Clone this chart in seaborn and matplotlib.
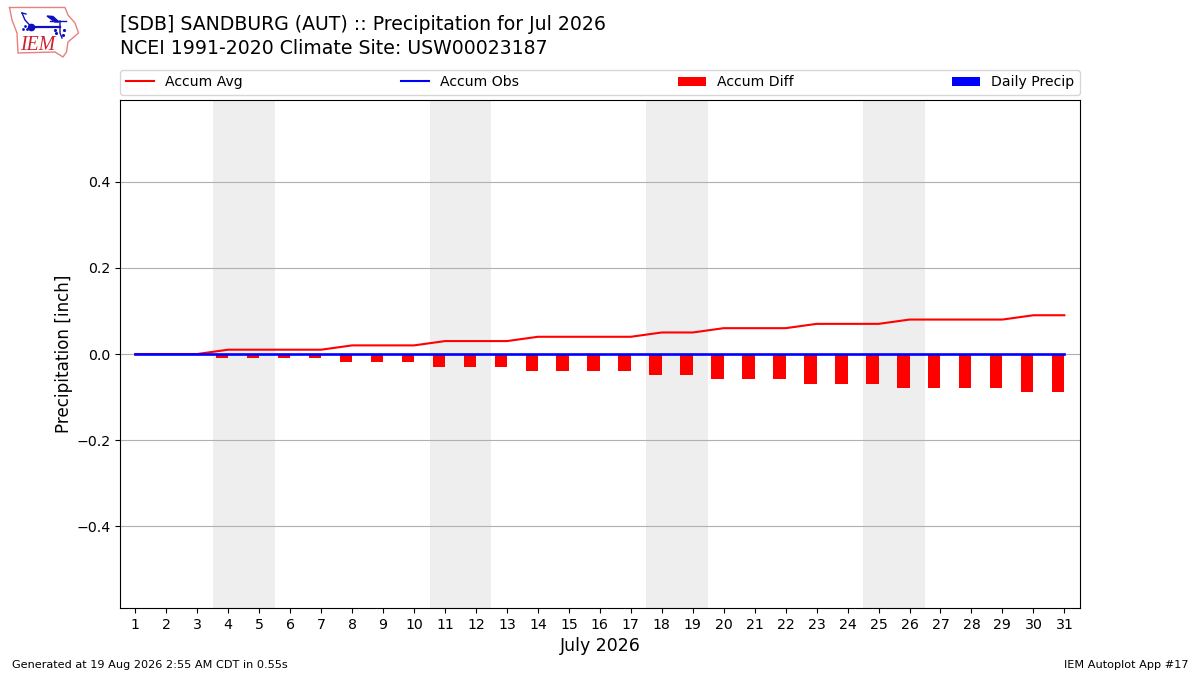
#!/usr/bin/env python3
"""SDB July 2026 precipitation, accumulated vs climate normal."""

import numpy as np
import pandas as pd
import matplotlib
matplotlib.use("Agg")
import matplotlib.pyplot as plt
import seaborn as sns

days = list(range(1, 32))
accum_avg = [0.00, 0.00, 0.00, 0.01, 0.01, 0.01, 0.01, 0.02, 0.02, 0.02, 0.03,
             0.03, 0.03, 0.04, 0.04, 0.04, 0.04, 0.05, 0.05, 0.06, 0.06, 0.06,
             0.07, 0.07, 0.07, 0.08, 0.08, 0.08, 0.08, 0.09, 0.09]
accum_obs = [0.00] * 31
accum_diff = [0.00, 0.00, 0.00, -0.01, -0.01, -0.01, -0.01, -0.018, -0.018, -0.018,
              -0.03, -0.03, -0.03, -0.04, -0.04, -0.04, -0.04, -0.048, -0.048,
              -0.058, -0.058, -0.058, -0.07, -0.07, -0.07, -0.08, -0.08, -0.08,
              -0.08, -0.088, -0.088]
daily_precip = [0.00] * 31
weekends = [(3.5, 5.5), (10.5, 12.5), (17.5, 19.5), (24.5, 26.5)]
y_ticks = [-0.4, -0.2, 0.0, 0.2, 0.4]

W, H = 1200, 675


def add_logo(fig):
    # rough redraw of the IEM logo, in pixel coords
    ax = fig.add_axes([0, 1 - 60 / H, 85 / W, 60 / H])
    ax.set_xlim(0, 85)
    ax.set_ylim(60, 0)
    ax.axis("off")
    ox = [9.5, 65, 68, 75, 78.5, 68, 66.5, 63, 55, 18, 17, 12, 9.5]
    oy = [7.5, 7.5, 15, 23, 33, 42, 52, 57, 52, 53, 33, 20, 7.5]
    ax.plot(ox, oy, color="#e88080", lw=1.0)
    ax.plot([31, 60], [26.5, 26.5], color="#1010c0", lw=1.6)
    ax.plot([31, 25, 22], [26.5, 20, 13], color="#1010c0", lw=1.0)
    ax.plot([22, 26], [13, 14], color="#1010c0", lw=1.0)
    ax.plot([31], [26.5], "o", color="#1010c0", ms=4.5)
    ax.fill([47, 53, 59, 55], [16, 16.5, 22, 22], color="#1010c0")
    ax.plot([50, 66], [21, 21], color="#1010c0", lw=1.0)
    ax.plot([60, 60, 62], [21, 33, 38], color="#1010c0", lw=1.0)
    ax.plot([55, 56, 64, 63], [30, 33, 30, 35], ".", color="#1010c0", ms=2.5)
    ax.plot([23, 25, 27], [29, 26, 29], ".", color="#1010c0", ms=2)
    ax.text(20.5, 45, "IEM", color="#d02030", fontsize=14.2, style="italic",
            family="Liberation Serif", ha="left", va="center")


def main():
    df = pd.DataFrame({"day": days, "avg": accum_avg, "obs": accum_obs,
                       "diff": accum_diff, "precip": daily_precip})
    # bars sit just left of the tick
    df["bar_x"] = df["day"] - 0.2

    fig = plt.figure(figsize=(W / 100, H / 100), dpi=100)
    ax = fig.add_axes([120 / W, 1 - 608 / H, 960 / W, 508 / H])

    for start, end in weekends:
        ax.axvspan(start, end, color="#eeeeee", lw=0, zorder=0)

    sns.lineplot(data=df, x="day", y="avg", color="red", ax=ax,
                 label="Accum Avg", zorder=3)
    sns.lineplot(data=df, x="day", y="obs", color="blue", ax=ax, lw=1.9,
                 label="Accum Obs", zorder=4)
    sns.barplot(data=df, x="bar_x", y="diff", native_scale=True, width=0.4,
                color="red", saturation=1, ax=ax, label="Accum Diff", zorder=2)
    sns.barplot(data=df, x="day", y="precip", native_scale=True, width=0.4,
                color="blue", saturation=1, ax=ax, label="Daily Precip", zorder=2)

    ax.set_xlim(0.505, 31.505)
    ax.set_ylim(-0.59, 0.59)
    ax.set_xticks(days)
    ax.set_xticklabels([str(d) for d in days])
    ax.set_yticks(y_ticks)
    ax.set_yticklabels(["\u22120.4", "\u22120.2", "0.0", "0.2", "0.4"])
    ax.grid(axis="y", color="#b0b0b0", lw=0.8)
    ax.grid(axis="x", visible=False)
    ax.set_axisbelow(True)
    ax.tick_params(labelsize=10.2)
    ax.set_xlabel("July 2026", fontsize=12.5)
    ax.set_ylabel("Precipitation [inch]", fontsize=12.1, labelpad=2.5)

    handles, labels = ax.get_legend_handles_labels()
    leg = ax.legend(handles, labels, bbox_to_anchor=(0, 1 + 5 / 508, 1, 0.05),
                    loc="lower left", mode="expand", ncol=4, borderaxespad=0,
                    fontsize=10.1)
    # legend keeps the thin line even though the obs line is heavier
    leg.get_lines()[1].set_linewidth(1.5)

    fig.text(120 / W, 1 - 25 / H, "[SDB] SANDBURG (AUT) :: Precipitation for Jul 2026",
             fontsize=13.6, va="center")
    fig.text(120 / W, 1 - 48 / H, "NCEI 1991-2020 Climate Site: USW00023187",
             fontsize=13.6, va="center")
    fig.text(12 / W, 1 - 665 / H, "Generated at 19 Aug 2026 2:55 AM CDT in 0.55s",
             fontsize=8.1, va="center")
    fig.text(1188 / W, 1 - 665 / H, "IEM Autoplot App #17", fontsize=8.1,
             va="center", ha="right")

    add_logo(fig)
    fig.savefig("out.png", dpi=100)


if __name__ == "__main__":
    main()
